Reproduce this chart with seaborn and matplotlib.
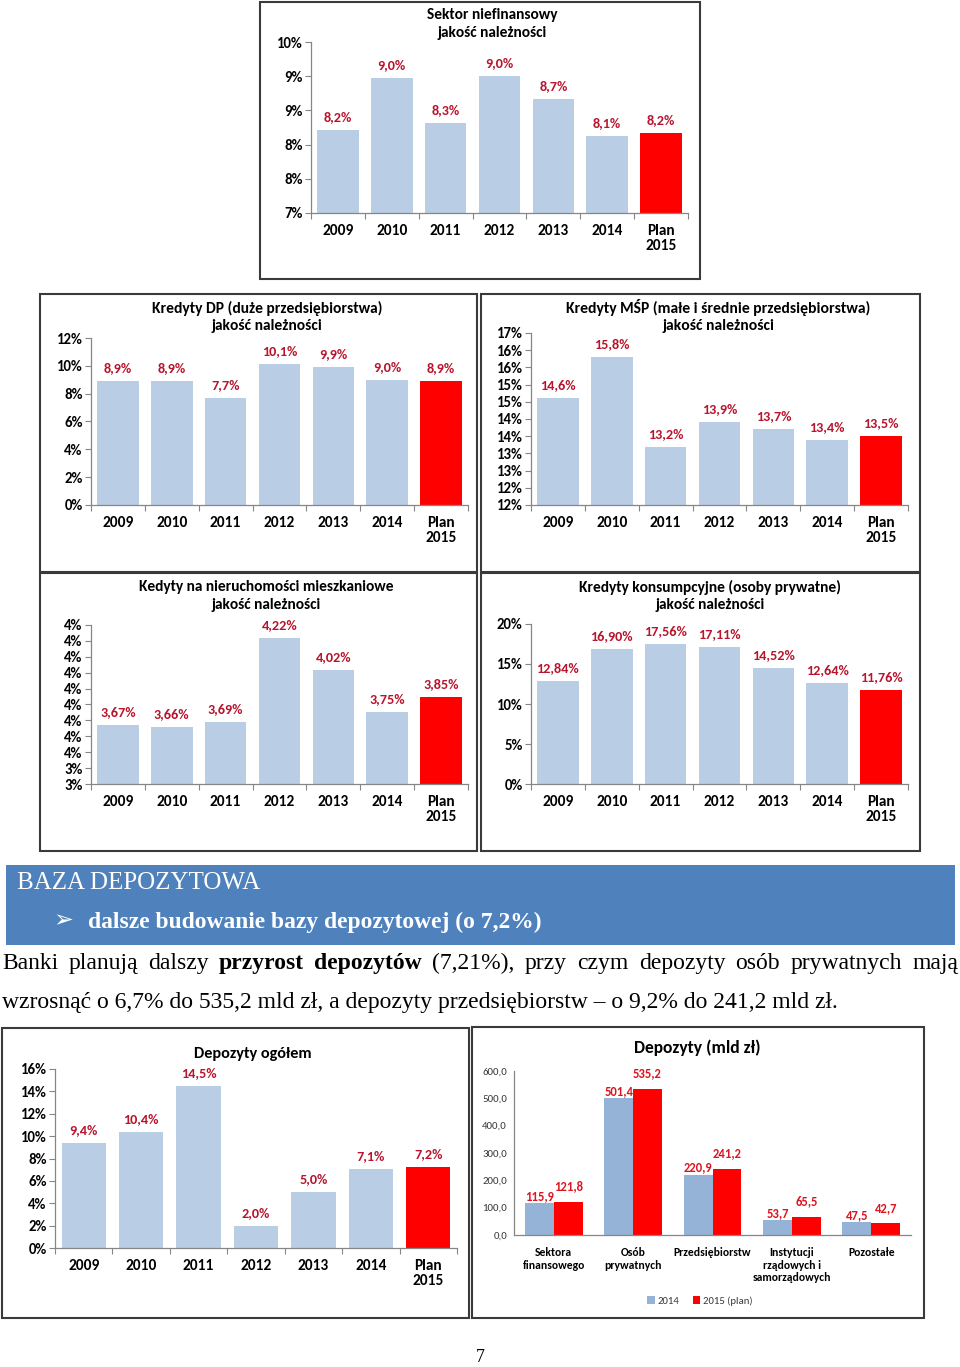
import numpy as np
import pandas as pd
import matplotlib
matplotlib.use('Agg')
import matplotlib.pyplot as plt
from matplotlib.patches import Rectangle, Patch
from matplotlib import font_manager
import seaborn as sns

# ---------------- data ----------------
YEARS = ['2009', '2010', '2011', '2012', '2013', '2014', 'Plan\n2015']

NF_VALUES = [8.22, 8.98, 8.32, 9.00, 8.66, 8.12, 8.17]
NF_YTICKS = [7.0, 7.5, 8.0, 8.5, 9.0, 9.5]
NF_YLABELS = ['7%', '8%', '8%', '9%', '9%', '10%']

DP_VALUES = [8.9, 8.9, 7.7, 10.1, 9.9, 9.0, 8.9]
DP_YTICKS = [0, 2, 4, 6, 8, 10, 12]
DP_YLABELS = ['0%', '2%', '4%', '6%', '8%', '10%', '12%']

MSP_VALUES = [14.6, 15.8, 13.2, 13.9, 13.7, 13.4, 13.5]
MSP_YTICKS = [11.5, 12.0, 12.5, 13.0, 13.5, 14.0, 14.5, 15.0, 15.5, 16.0, 16.5]
MSP_YLABELS = ['12%', '12%', '13%', '13%', '14%', '14%', '15%', '15%', '16%', '16%', '17%']

MORT_VALUES = [3.67, 3.66, 3.69, 4.22, 4.02, 3.75, 3.85]
MORT_YTICKS = [3.3, 3.4, 3.5, 3.6, 3.7, 3.8, 3.9, 4.0, 4.1, 4.2, 4.3]
MORT_YLABELS = ['3%', '3%', '4%', '4%', '4%', '4%', '4%', '4%', '4%', '4%', '4%']

CONS_VALUES = [12.84, 16.90, 17.56, 17.11, 14.52, 12.64, 11.76]
CONS_YTICKS = [0, 5, 10, 15, 20]
CONS_YLABELS = ['0%', '5%', '10%', '15%', '20%']

DEP_VALUES = [9.4, 10.4, 14.5, 2.0, 5.0, 7.1, 7.2]
DEP_YTICKS = [0, 2, 4, 6, 8, 10, 12, 14, 16]
DEP_YLABELS = ['0%', '2%', '4%', '6%', '8%', '10%', '12%', '14%', '16%']

MLD_CATS = ['Sektora\nfinansowego', 'Osób\nprywatnych', 'Przedsiębiorstw',
            'Instytucji\nrządowych i\nsamorządowych', 'Pozostałe']
MLD_SERIES = ['2014', '2015 (plan)']
MLD_2014 = [115.9, 501.4, 220.9, 53.7, 47.5]
MLD_2015 = [121.8, 535.2, 241.2, 65.5, 42.7]
MLD_YTICKS = [0, 100, 200, 300, 400, 500, 600]
MLD_YLABELS = ['0,0', '100,0', '200,0', '300,0', '400,0', '500,0', '600,0']

# ---------------- style ----------------
sns.set_theme(style='white')


def _weight_num(w):
    if isinstance(w, (int, float)):
        return w
    return {'normal': 400, 'regular': 400, 'medium': 500, 'semibold': 600,
            'demibold': 600, 'bold': 700, 'heavy': 800, 'extra bold': 800,
            'black': 900}.get(str(w).lower(), 400)


def pick_sans():
    for fam in ['Carlito', 'Lato', 'Roboto', 'Open Sans', 'Noto Sans', 'Liberation Sans']:
        for f in font_manager.fontManager.ttflist:
            if f.name == fam and _weight_num(f.weight) >= 650 and f.style == 'normal':
                return fam
    return 'DejaVu Sans'


SANS = pick_sans()
plt.rcParams['font.family'] = [SANS, 'DejaVu Sans']

BLUE = '#B9CDE5'
BLUE2 = '#95B3D7'
RED = '#FF0000'
LABEL_DARK = '#B8142C'
LABEL_RED = '#DC1420'
AXIS = '#868686'
YEAR_COLORS = [BLUE] * 6 + [RED]

W, H = 960, 1367
fig = plt.figure(figsize=(W / 100, H / 100), dpi=100)
fig.patch.set_facecolor('white')
renderer = fig.canvas.get_renderer()


def size_for(sample, target_px, weight='bold', family=None):
    kw = dict(fontsize=10, fontweight=weight)
    if family:
        kw['family'] = family
    t = fig.text(0, 0, sample, **kw)
    w = t.get_window_extent(renderer).width
    t.remove()
    return 10 * target_px / w


XT_SIZE = size_for('2009', 31)
YT_SIZE = size_for('10%', 26)
DL_SIZE = size_for('8,2%', 28.5)
M_YT_SIZE = size_for('600,0', 25, weight='normal')
M_XT_SIZE = size_for('Przedsiębiorstw', 77)
M_DL_SIZE = size_for('115,9', 29)
M_LG_SIZE = size_for('2015 (plan)', 50, weight='normal')


def px_axes(l, t, r, b):
    return fig.add_axes([l / W, 1 - b / H, (r - l) / W, (b - t) / H])


def box(l, t, r, b, lw=1.5, ec='#3a3a3a'):
    fig.add_artist(Rectangle((l / W, 1 - b / H), (r - l) / W, (b - t) / H,
                             transform=fig.transFigure, fill=False, ec=ec, lw=lw))


def ftext(x, y, s, **kw):
    return fig.text(x / W, 1 - y / H, s, **kw)


def fit(t, target):
    w = t.get_window_extent(renderer).width
    t.set_fontsize(t.get_fontsize() * target / w)
    return t


def fmt(v, d, pct=True):
    s = f'{v:.{d}f}'.replace('.', ',')
    return s + ('%' if pct else '')


def style_axes(ax, n, yticks, ylabels, ytick_len=4, xlab_size=XT_SIZE, ylab_size=YT_SIZE,
               xpad=8):
    ax.set_xlim(-0.5, n - 0.5)
    ax.set_ylim(yticks[0], yticks[-1])
    ax.set_yticks(yticks)
    ax.set_yticklabels(ylabels)
    ax.set_xlabel('')
    ax.set_ylabel('')
    for s in ['top', 'right']:
        ax.spines[s].set_visible(False)
    for s in ['left', 'bottom']:
        ax.spines[s].set_color(AXIS)
        ax.spines[s].set_linewidth(0.9)
    ax.set_facecolor('none')
    ax.tick_params(axis='y', length=ytick_len, width=0.8, color=AXIS, pad=2,
                   labelsize=ylab_size, direction='out', left=True)
    ax.set_xticks(np.arange(-0.5, n, 1.0), minor=True)
    ax.tick_params(axis='x', which='major', length=0, pad=xpad, labelsize=xlab_size)
    ax.tick_params(axis='x', which='minor', length=4, width=0.8, color=AXIS,
                   direction='out', bottom=True)
    for lab in ax.get_yticklabels() + ax.get_xticklabels():
        lab.set_fontweight('bold')
        lab.set_color('black')
    for lab in ax.get_xticklabels():
        lab.set_linespacing(1.05)


def year_panel(axbox, values, yticks, ylabels, decimals, title_lines, tx, tys,
               title_w):
    ax = px_axes(*axbox)
    df = pd.DataFrame({'year': YEARS, 'value': values})
    sns.barplot(data=df, x='year', y='value', hue='year', palette=YEAR_COLORS,
                legend=False, width=0.77, saturation=1, errorbar=None,
                linewidth=0, ax=ax)
    style_axes(ax, len(YEARS), yticks, ylabels)
    for cont in ax.containers:
        ax.bar_label(cont, labels=[fmt(v, decimals) for v in cont.datavalues],
                     padding=5, color=LABEL_DARK, fontsize=DL_SIZE,
                     fontweight='bold')
    t0 = fit(ftext(tx, tys[0], title_lines[0], ha='center', va='center', fontsize=10,
                   fontweight='bold', color='black'), title_w)
    for line, ty in zip(title_lines[1:], tys[1:]):
        ftext(tx, ty, line, ha='center', va='center', fontsize=t0.get_fontsize(),
              fontweight='bold', color='black')
    return ax


# ---------------- panel boxes ----------------
box(260, 2, 700, 279)
box(40, 294, 477, 572)
box(481, 294, 920, 572)
box(40, 573, 477, 851)
box(481, 573, 920, 851)
box(2, 1028, 469, 1318)
box(472, 1027, 924, 1318)

year_panel((311, 42, 688, 213), NF_VALUES, NF_YTICKS, NF_YLABELS, 1,
           ['Sektor niefinansowy', 'jakość należności'], 492, (15, 33), 131)
year_panel((91, 338, 468, 505), DP_VALUES, DP_YTICKS, DP_YLABELS, 1,
           ['Kredyty DP (duże przedsiębiorstwa)', 'jakość należności'], 267, (308, 326), 229)
year_panel((531, 333, 908, 505), MSP_VALUES, MSP_YTICKS, MSP_YLABELS, 1,
           ['Kredyty MŚP (małe i średnie przedsiębiorstwa)', 'jakość należności'], 718, (308, 326), 303)
year_panel((91, 625, 468, 784), MORT_VALUES, MORT_YTICKS, MORT_YLABELS, 2,
           ['Kedyty na nieruchomości mieszkaniowe', 'jakość należności'], 266, (587, 605), 256)
year_panel((531, 624, 908, 784), CONS_VALUES, CONS_YTICKS, CONS_YLABELS, 2,
           ['Kredyty konsumpcyjne (osoby prywatne)', 'jakość należności'], 710, (587, 605), 263)
year_panel((55, 1069, 457, 1248), DEP_VALUES, DEP_YTICKS, DEP_YLABELS, 1,
           ['Depozyty ogółem'], 253, (1054,), 118)

# ---------------- grouped deposits panel ----------------
ax8 = px_axes(514, 1071, 911, 1235)
df8 = pd.DataFrame({
    'cat': MLD_CATS * 2,
    'series': [MLD_SERIES[0]] * len(MLD_CATS) + [MLD_SERIES[1]] * len(MLD_CATS),
    'value': MLD_2014 + MLD_2015,
})
sns.barplot(data=df8, x='cat', y='value', hue='series', palette=[BLUE2, RED],
            width=0.727, gap=0, saturation=1, errorbar=None, linewidth=0,
            legend=False, ax=ax8)
style_axes(ax8, len(MLD_CATS), MLD_YTICKS, MLD_YLABELS, ytick_len=0,
           xlab_size=M_XT_SIZE, ylab_size=M_YT_SIZE, xpad=9)
ax8.tick_params(axis='x', which='minor', length=0)
ax8.tick_params(axis='y', pad=5)
for lab in ax8.get_yticklabels():
    lab.set_fontweight('normal')
    lab.set_color('#3a3a3a')
for lab in ax8.get_xticklabels():
    lab.set_linespacing(1.15)
for cont, pad in zip(ax8.containers, (1, 7)):
    ax8.bar_label(cont, labels=[fmt(v, 1, pct=False) for v in cont.datavalues],
                  padding=pad, color=LABEL_RED, fontsize=M_DL_SIZE, fontweight='bold')
fit(ftext(697, 1048, 'Depozyty (mld zł)', ha='center', va='center', fontsize=11,
          fontweight='bold', color='black'), 127)
handles = [Patch(facecolor=BLUE2, edgecolor='none'), Patch(facecolor=RED, edgecolor='none')]
ax8.legend(handles, MLD_SERIES, loc='center', bbox_to_anchor=(700 / W, 1 - 1301 / H),
           bbox_transform=fig.transFigure, ncol=2, frameon=False, fontsize=M_LG_SIZE,
           handlelength=0.7, handleheight=0.7, handletextpad=0.3, columnspacing=1.2,
           labelcolor='#3a3a3a')

# ---------------- text section ----------------
fig.add_artist(Rectangle((6 / W, 1 - 945 / H), 949 / W, 80 / H,
                         transform=fig.transFigure, fc='#4F81BD', ec='none'))
SERIF = ['Liberation Serif', 'DejaVu Serif']

fit(ftext(17, 889, 'BAZA DEPOZYTOWA', family=SERIF, fontsize=18, color='white',
          va='baseline'), 243)
ftext(53, 920, '➢', family=['DejaVu Sans'], fontsize=17, color='white', va='center')
fit(ftext(88, 928, 'dalsze budowanie bazy depozytowej (o 7,2%)', family=SERIF,
          fontsize=18, fontweight='bold', color='white', va='baseline'), 454)

line2 = fit(ftext(2, 1008, 'wzrosnąć o 6,7% do 535,2 mld zł, a depozyty przedsiębiorstw – o 9,2% do 241,2 mld zł.',
                  family=SERIF, fontsize=16, color='black', va='baseline'), 836)
fs = line2.get_fontsize()
words = ['Banki', 'planują', 'dalszy', 'przyrost', 'depozytów', '(7,21%),', 'przy',
         'czym', 'depozyty', 'osób', 'prywatnych', 'mają']
bold = {3, 4}
objs = [ftext(0, 969, w_, family=SERIF, fontsize=fs, color='black', va='baseline',
              fontweight='bold' if i in bold else 'normal') for i, w_ in enumerate(words)]
widths = [o.get_window_extent(renderer).width for o in objs]
gap = (956 - sum(widths)) / (len(words) - 1)
x = 2.0
for o, w_ in zip(objs, widths):
    o.set_x(x / W)
    x += w_ + gap

ftext(480, 1358, '7', family=SERIF, fontsize=13, color='black', ha='center', va='center')

fig.savefig('out.png', dpi=100, facecolor='white')
